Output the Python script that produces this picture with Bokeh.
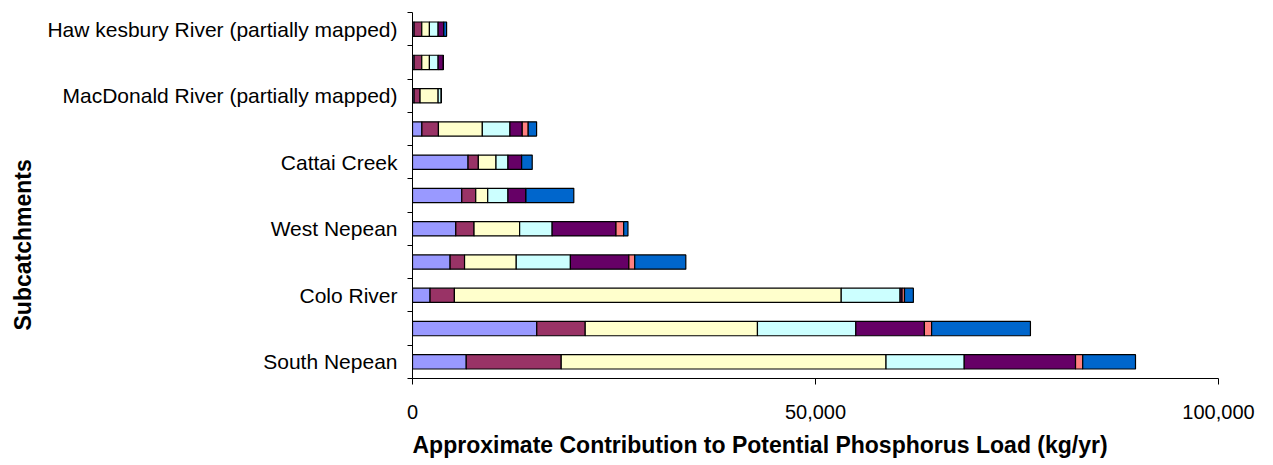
from bokeh.plotting import figure
from bokeh.models import ColumnDataSource, FixedTicker, NumeralTickFormatter, CustomJSTickFormatter, Range1d, Title
from bokeh.embed import file_html
from bokeh.resources import INLINE

# Subcatchments, bottom to top (only every other one is labelled in the source chart)
categories = ["South Nepean", "", "Colo River", "", "West Nepean", "",
              "Cattai Creek", "", "MacDonald River (partially mapped)", "",
              "Haw kesbury River (partially mapped)"]

# Contribution per source (kg/yr), bottom to top
series_1 = [6667, 15417, 2178, 4666, 5371, 6114, 6894, 1163, 200, 200, 200]
series_2 = [11785, 6012, 3020, 1794, 2265, 1732, 1276, 2055, 740, 950, 950]
series_3 = [40298, 21369, 47994, 6411, 5656, 1486, 2190, 5445, 2240, 950, 950]
series_4 = [9702, 12202, 7300, 6720, 4034, 2512, 1486, 3428, 400, 1080, 1080]
series_5 = [13810, 8512, 250, 7253, 7921, 2228, 1695, 1523, 0, 650, 700]
series_6 = [893, 893, 300, 729, 953, 0, 0, 742, 0, 0, 0]
series_7 = [6547, 12262, 1100, 6337, 532, 5940, 1312, 1040, 0, 0, 350]

x_ticks = [0, 50000, 100000]

x_title = "Approximate Contribution to Potential Phosphorus Load (kg/yr)"
y_title = "Subcatchments"

series_names = ["s1", "s2", "s3", "s4", "s5", "s6", "s7"]
series_values = [series_1, series_2, series_3, series_4, series_5, series_6, series_7]
colors = ["#9999FF", "#993366", "#FFFFCC", "#CCFFFF", "#660066", "#FF8080", "#0066CC"]

n = len(categories)
data = {"y": [i + 0.5 for i in range(n)]}
for name, vals in zip(series_names, series_values):
    data[name] = vals
source = ColumnDataSource(data)

p = figure(width=1257, height=465, output_backend="svg", toolbar_location=None,
           x_range=Range1d(0, 100000), y_range=Range1d(0, n),
           min_border_left=412, min_border_right=39, min_border_top=12, min_border_bottom=87)

p.hbar_stack(series_names, y="y", height=0.43, color=colors, source=source,
             line_color="black", line_width=1.2)

p.outline_line_color = None
p.xgrid.visible = False
p.ygrid.visible = False

FONT = "Liberation Sans"

# x axis
xa = p.xaxis[0]
xa.ticker = FixedTicker(ticks=x_ticks, minor_ticks=[])
xa.formatter = NumeralTickFormatter(format="0,0")
xa.major_tick_out = 6
xa.major_tick_in = 0
xa.minor_tick_line_color = None
xa.axis_line_color = "black"
xa.major_tick_line_color = "black"
xa.major_label_text_font = FONT
xa.major_label_text_font_size = "20px"
xa.major_label_text_color = "black"
xa.major_label_standoff = 20

# y axis
ya = p.yaxis[0]
ya.ticker = FixedTicker(ticks=[i + 0.5 for i in range(n)], minor_ticks=list(range(n + 1)))
ya.formatter = CustomJSTickFormatter(args=dict(labels=categories),
                                     code="const i = Math.floor(tick); return (i >= 0 && i < labels.length) ? labels[i] : '';")
ya.major_tick_line_color = None
ya.major_tick_out = 5
ya.major_tick_in = 0
ya.minor_tick_out = 5
ya.minor_tick_in = 0
ya.minor_tick_line_color = "black"
ya.axis_line_color = "black"
ya.major_label_text_font = FONT
ya.major_label_text_font_size = "21px"
ya.major_label_text_color = "black"
ya.major_label_standoff = 10

# axis titles, aligned like the original (start of the plot area)
p.add_layout(Title(text=x_title, align="left", offset=0, standoff=16, vertical_align="bottom",
                   text_font=FONT, text_font_style="bold", text_font_size="23px",
                   text_color="black"), "below")
p.add_layout(Title(text=y_title, align="left", offset=48, standoff=13, vertical_align="top",
                   text_font=FONT, text_font_style="bold", text_font_size="23px",
                   text_color="black"), "left")

open("out.html", "w").write(file_html(p, INLINE))
